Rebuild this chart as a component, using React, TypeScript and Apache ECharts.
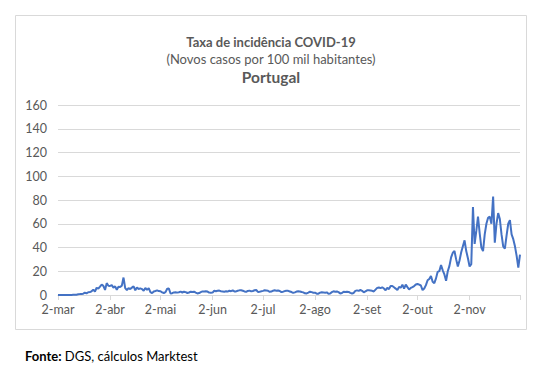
import React, { useEffect, useRef } from "react";
import * as echarts from "echarts";

// Daily incidence (new cases per 100k inhabitants), Portugal, 2 Mar – 2 Dec 2020
const marValues = [0.02, 0.01, 0.02, 0.04, 0.04, 0.08, 0.09, 0.09, 0.1, 0.2, 0.2, 0.3, 0.55, 0.74, 0.83, 1.1, 1.9, 1.4, 2.3, 2.5, 3.1, 4.5, 2.9, 6.1, 5.3, 7.0, 8.8, 7.7, 4.3, 10.0];
const aprValues = [7.8, 7.6, 8.3, 6.2, 7.3, 4.4, 6.9, 6.8, 7.9, 14.7, 5.8, 4.2, 5.8, 5.0, 6.2, 7.3, 4.0, 6.4, 5.1, 5.6, 5.0, 3.6, 5.9, 4.3, 5.8, 2.4, 1.6, 3.0, 3.4, 3.9];
const maiValues = [3.3, 3.2, 2.2, 1.7, 2.4, 5.2, 5.4, 1.3, 1.5, 2.2, 2.3, 2.0, 2.3, 2.8, 2.1, 2.8, 2.4, 1.7, 2.1, 2.8, 2.5, 2.8, 2.0, 1.3, 1.6, 2.4, 3.0, 2.9, 3.1, 2.9, 2.0];
const junValues = [1.9, 2.0, 3.6, 3.2, 3.6, 3.7, 3.2, 3.0, 2.8, 3.1, 2.9, 3.6, 3.2, 3.9, 3.0, 3.0, 3.6, 3.9, 4.0, 3.6, 3.0, 2.6, 3.4, 3.7, 3.1, 3.4, 4.0, 4.2, 2.6, 2.8];
const julValues = [3.1, 3.5, 4.0, 3.8, 3.6, 2.7, 2.9, 3.6, 4.0, 3.5, 3.8, 3.4, 2.4, 2.8, 3.3, 3.6, 3.5, 3.0, 2.5, 1.8, 2.2, 2.9, 3.1, 3.0, 2.5, 2.2, 1.4, 1.3, 2.0, 2.8, 2.4];
const agoValues = [1.9, 1.9, 1.1, 1.1, 2.0, 2.3, 2.2, 1.9, 2.2, 1.0, 1.3, 2.4, 3.1, 2.7, 3.0, 2.4, 1.3, 1.7, 2.8, 2.5, 2.8, 2.6, 1.8, 1.3, 1.7, 3.5, 3.9, 3.5, 4.2, 3.5, 2.3];
const setValues = [3.0, 3.9, 4.0, 3.8, 3.5, 3.0, 4.5, 6.0, 6.3, 5.8, 6.5, 5.5, 4.0, 6.0, 5.0, 7.5, 7.6, 6.5, 5.4, 4.1, 6.7, 6.2, 8.7, 5.4, 8.7, 6.6, 4.6, 6.0, 6.7, 7.5];
const outValues = [8.8, 9.3, 8.7, 8.0, 4.1, 5.5, 8.3, 12.4, 13.5, 16.0, 11.2, 10.0, 14.0, 19.5, 20.1, 25.3, 20.8, 17.3, 12.0, 20.0, 24.5, 31.7, 35.6, 37.0, 30.0, 24.0, 29.0, 36.0, 41.0, 46.0, 37.0];
const novValues = [31, 24, 26, 74, 43, 54, 66, 52, 40, 37, 51, 60, 65, 66, 60, 83, 44, 60, 69, 64, 51, 41, 39, 50, 60, 63, 51, 47, 41, 33];
const dezValues = [23, 34];

const monthNames = ["mar", "abr", "mai", "jun", "jul", "ago", "set", "out", "nov", "dez"];
const monthSeries = [marValues, aprValues, maiValues, junValues, julValues, agoValues, setValues, outValues, novValues, dezValues];
const firstDay = [2, 1, 1, 1, 1, 1, 1, 1, 1, 1];

const yTicks = [0, 20, 40, 60, 80, 100, 120, 140, 160];

const titleText = "Taxa de incidência COVID-19";
const subtitleText = "(Novos casos por 100 mil habitantes)";
const countryText = "Portugal";
const sourceLabel = "Fonte:";
const sourceText = " DGS, cálculos Marktest";

export default function App() {
  const ref = useRef<HTMLDivElement>(null);
  useEffect(() => {
    if (!ref.current) return;
    const chart = echarts.init(ref.current, undefined, { renderer: "svg" });
    const categories: string[] = [];
    const values: number[] = [];
    monthSeries.forEach((arr, m) => {
      arr.forEach((v, i) => {
        categories.push(`${firstDay[m] + i}-${monthNames[m]}`);
        values.push(v);
      });
    });
    const lastIdx = categories.length - 1;
    const isMonthTick = (idx: number, val: string) =>
      (val.startsWith("2-") && !val.endsWith("dez")) || idx === lastIdx;
    const font = "Lato, 'Liberation Sans', sans-serif";
    chart.setOption({
      animation: false,
      backgroundColor: "#ffffff",
      textStyle: { fontFamily: font },
      grid: { left: 58, right: 32, top: 105, bottom: 83 },
      xAxis: {
        type: "category",
        data: categories,
        boundaryGap: false,
        axisLine: { lineStyle: { color: "#d9d9d9", width: 1 } },
        axisTick: {
          show: true,
          length: 5,
          interval: (idx: number, val: string) => isMonthTick(idx, val),
          lineStyle: { color: "#d9d9d9" },
        },
        axisLabel: {
          interval: (idx: number, val: string) => val.startsWith("2-") && !val.endsWith("dez"),
          color: "#595959",
          fontSize: 12.5,
          fontFamily: font,
          margin: 8,
        },
        splitLine: { show: false },
      },
      yAxis: {
        type: "value",
        min: yTicks[0],
        max: yTicks[yTicks.length - 1],
        interval: 20,
        axisLine: { show: false },
        axisTick: { show: false },
        axisLabel: { color: "#595959", fontSize: 12.5, fontFamily: font, margin: 11 },
        splitLine: { lineStyle: { color: "#d9d9d9", width: 1 } },
      },
      series: [
        {
          type: "line",
          data: values,
          showSymbol: false,
          symbol: "none",
          lineStyle: { color: "#4472C4", width: 2 },
          itemStyle: { color: "#4472C4" },
        },
      ],
      graphic: [
        {
          type: "rect",
          shape: { x: 15.5, y: 15.5, width: 511, height: 314 },
          style: { fill: "none", stroke: "#d9d9d9", lineWidth: 1 },
          z: -10,
        },
        {
          type: "text",
          x: 271,
          y: 42,
          style: {
            text: titleText,
            fill: "#595959",
            font: `bold 13px ${font}`,
            textAlign: "center",
            textVerticalAlign: "middle",
          },
        },
        {
          type: "text",
          x: 271,
          y: 59,
          style: {
            text: subtitleText,
            fill: "#595959",
            font: `13px ${font}`,
            textAlign: "center",
            textVerticalAlign: "middle",
          },
        },
        {
          type: "text",
          x: 271,
          y: 77,
          style: {
            text: countryText,
            fill: "#595959",
            font: `bold 15.5px ${font}`,
            textAlign: "center",
            textVerticalAlign: "middle",
          },
        },
        {
          type: "text",
          x: 25,
          y: 356,
          style: {
            rich: {
              b: { fontWeight: "bold", fontSize: 13, fill: "#000000", fontFamily: font },
              n: { fontSize: 13, fill: "#000000", fontFamily: font },
            },
            text: `{b|${sourceLabel}}{n|${sourceText}}`,
            textVerticalAlign: "middle",
          },
        },
      ],
    });
    return () => chart.dispose();
  }, []);
  return (
    <div
      ref={ref}
      style={{ position: "absolute", left: 0, top: 0, width: 552, height: 378 }}
    />
  );
}
